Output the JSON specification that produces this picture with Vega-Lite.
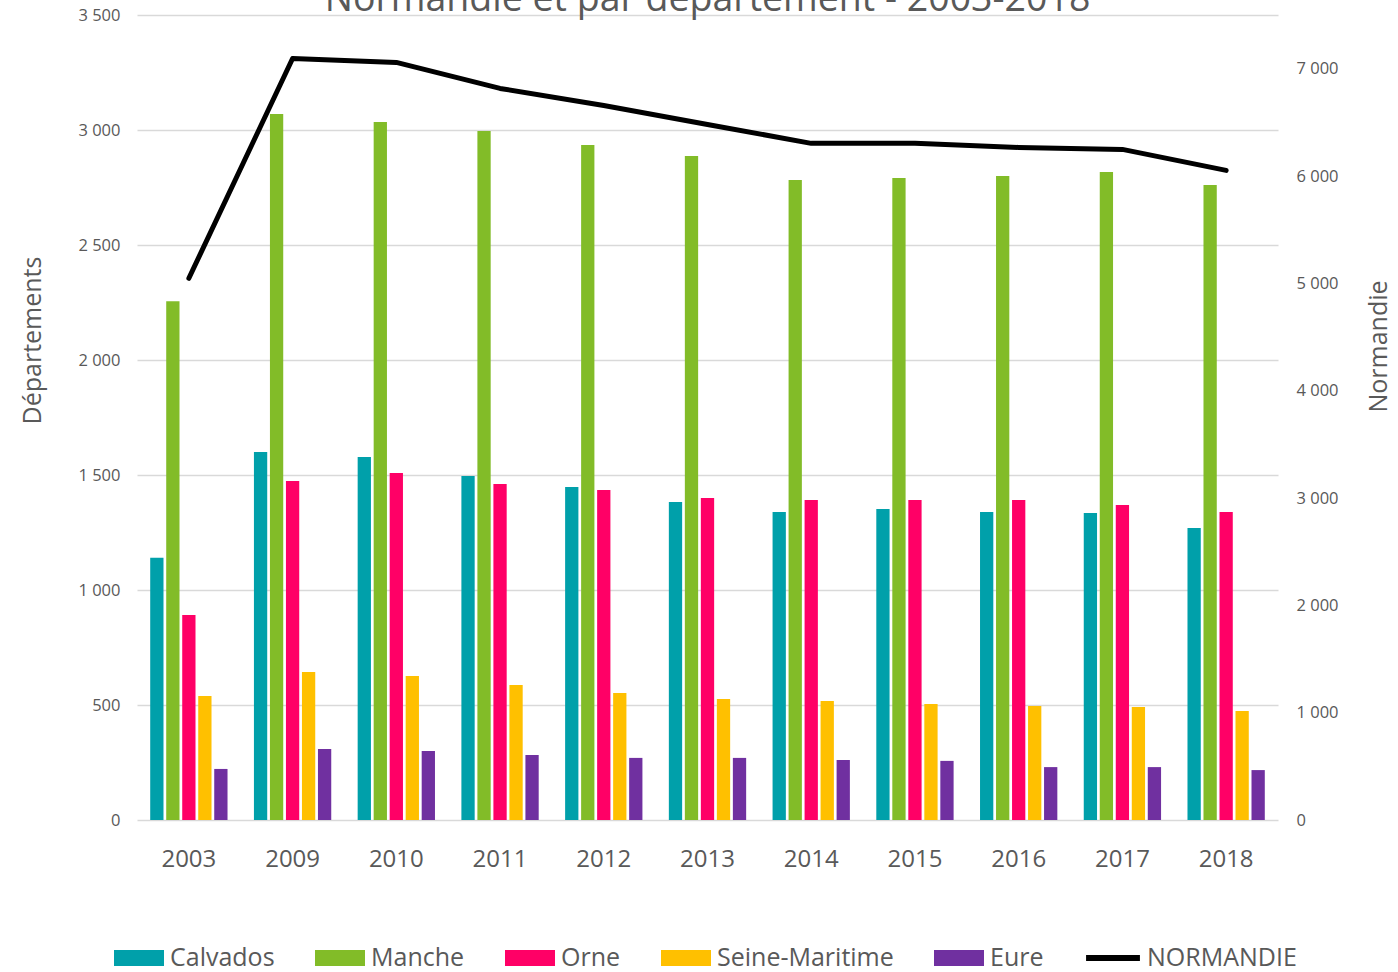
{
  "$schema": "https://vega.github.io/schema/vega-lite/v6.json",
  "width": 1141,
  "height": 805,
  "autosize": {"type": "none"},
  "padding": {"left": 137, "top": 15, "right": 120, "bottom": 152},
  "background": "white",
  "title": {"text": "Normandie et par département - 2003-2018", "fontSize": 37.5, "font": "Open Sans", "fontWeight": "normal", "color": "#595959", "frame": "group", "offset": -11, "anchor": "middle"},
  "config": {"view": {"stroke": null}, "font": "Open Sans"},
  "datasets": {
    "dept": [
      {"annee": "2003", "departement": "Calvados", "valeur": 1140},
      {"annee": "2003", "departement": "Manche", "valeur": 2255},
      {"annee": "2003", "departement": "Orne", "valeur": 891},
      {"annee": "2003", "departement": "Seine-Maritime", "valeur": 539},
      {"annee": "2003", "departement": "Eure", "valeur": 222},
      {"annee": "2009", "departement": "Calvados", "valeur": 1600},
      {"annee": "2009", "departement": "Manche", "valeur": 3070},
      {"annee": "2009", "departement": "Orne", "valeur": 1474},
      {"annee": "2009", "departement": "Seine-Maritime", "valeur": 643},
      {"annee": "2009", "departement": "Eure", "valeur": 309},
      {"annee": "2010", "departement": "Calvados", "valeur": 1578},
      {"annee": "2010", "departement": "Manche", "valeur": 3035},
      {"annee": "2010", "departement": "Orne", "valeur": 1509},
      {"annee": "2010", "departement": "Seine-Maritime", "valeur": 626},
      {"annee": "2010", "departement": "Eure", "valeur": 300},
      {"annee": "2011", "departement": "Calvados", "valeur": 1496},
      {"annee": "2011", "departement": "Manche", "valeur": 2996},
      {"annee": "2011", "departement": "Orne", "valeur": 1461},
      {"annee": "2011", "departement": "Seine-Maritime", "valeur": 587},
      {"annee": "2011", "departement": "Eure", "valeur": 283},
      {"annee": "2012", "departement": "Calvados", "valeur": 1448},
      {"annee": "2012", "departement": "Manche", "valeur": 2935},
      {"annee": "2012", "departement": "Orne", "valeur": 1435},
      {"annee": "2012", "departement": "Seine-Maritime", "valeur": 552},
      {"annee": "2012", "departement": "Eure", "valeur": 270},
      {"annee": "2013", "departement": "Calvados", "valeur": 1383},
      {"annee": "2013", "departement": "Manche", "valeur": 2887},
      {"annee": "2013", "departement": "Orne", "valeur": 1400},
      {"annee": "2013", "departement": "Seine-Maritime", "valeur": 526},
      {"annee": "2013", "departement": "Eure", "valeur": 270},
      {"annee": "2014", "departement": "Calvados", "valeur": 1339},
      {"annee": "2014", "departement": "Manche", "valeur": 2783},
      {"annee": "2014", "departement": "Orne", "valeur": 1391},
      {"annee": "2014", "departement": "Seine-Maritime", "valeur": 517},
      {"annee": "2014", "departement": "Eure", "valeur": 261},
      {"annee": "2015", "departement": "Calvados", "valeur": 1352},
      {"annee": "2015", "departement": "Manche", "valeur": 2791},
      {"annee": "2015", "departement": "Orne", "valeur": 1391},
      {"annee": "2015", "departement": "Seine-Maritime", "valeur": 504},
      {"annee": "2015", "departement": "Eure", "valeur": 257},
      {"annee": "2016", "departement": "Calvados", "valeur": 1339},
      {"annee": "2016", "departement": "Manche", "valeur": 2800},
      {"annee": "2016", "departement": "Orne", "valeur": 1391},
      {"annee": "2016", "departement": "Seine-Maritime", "valeur": 496},
      {"annee": "2016", "departement": "Eure", "valeur": 230},
      {"annee": "2017", "departement": "Calvados", "valeur": 1335},
      {"annee": "2017", "departement": "Manche", "valeur": 2817},
      {"annee": "2017", "departement": "Orne", "valeur": 1370},
      {"annee": "2017", "departement": "Seine-Maritime", "valeur": 491},
      {"annee": "2017", "departement": "Eure", "valeur": 230},
      {"annee": "2018", "departement": "Calvados", "valeur": 1270},
      {"annee": "2018", "departement": "Manche", "valeur": 2761},
      {"annee": "2018", "departement": "Orne", "valeur": 1339},
      {"annee": "2018", "departement": "Seine-Maritime", "valeur": 474},
      {"annee": "2018", "departement": "Eure", "valeur": 217}
    ],
    "norm": [
      {"annee": "2003", "serie": "NORMANDIE", "valeur": 5047},
      {"annee": "2009", "serie": "NORMANDIE", "valeur": 7095},
      {"annee": "2010", "serie": "NORMANDIE", "valeur": 7058},
      {"annee": "2011", "serie": "NORMANDIE", "valeur": 6816},
      {"annee": "2012", "serie": "NORMANDIE", "valeur": 6657},
      {"annee": "2013", "serie": "NORMANDIE", "valeur": 6480},
      {"annee": "2014", "serie": "NORMANDIE", "valeur": 6304},
      {"annee": "2015", "serie": "NORMANDIE", "valeur": 6304},
      {"annee": "2016", "serie": "NORMANDIE", "valeur": 6266},
      {"annee": "2017", "serie": "NORMANDIE", "valeur": 6248},
      {"annee": "2018", "serie": "NORMANDIE", "valeur": 6052}
    ]
  },
  "layer": [
    {
      "data": {"name": "dept"},
      "mark": {"type": "bar"},
      "encoding": {
        "x": {"field": "annee", "type": "nominal", "title": null,
          "scale": {"paddingInner": 0.23, "paddingOuter": 0.115},
          "axis": {"labelAngle": 0, "labelFontSize": 24, "labelColor": "#595959", "labelPadding": 27, "ticks": false, "domain": false, "labelFont": "Open Sans"}},
        "xOffset": {"field": "departement", "type": "nominal", "sort": ["Calvados", "Manche", "Orne", "Seine-Maritime", "Eure"],
          "scale": {"paddingInner": 0.17, "paddingOuter": 0.08}},
        "y": {"field": "valeur", "type": "quantitative", "title": "Départements",
          "scale": {"domain": [0, 3500], "nice": false},
          "axis": {"values": [0, 500, 1000, 1500, 2000, 2500, 3000, 3500], "grid": true, "gridColor": "#d9d9d9", "gridWidth": 1.5,
            "domain": false, "ticks": false, "labelFontSize": 16.5, "labelColor": "#595959", "labelPadding": 17, "labelFont": "Open Sans",
            "labelExpr": "replace(format(datum.value, ','), ',', ' ')",
            "titleFontSize": 25, "titleColor": "#595959", "titleFontWeight": "normal", "titleFont": "Open Sans",
            "titleAngle": 270, "titleX": -105, "titleY": 325, "titleBaseline": "middle", "titleAlign": "center"}},
        "color": {"field": "departement", "type": "nominal", "sort": ["Calvados", "Manche", "Orne", "Seine-Maritime", "Eure"],
          "scale": {"domain": ["Calvados", "Manche", "Orne", "Seine-Maritime", "Eure"], "range": ["#00a0aa", "#82bc28", "#ff0066", "#ffc000", "#7030a0"]},
          "legend": {"title": null, "orient": "none", "legendX": -23, "legendY": 918, "direction": "horizontal",
            "labelFontSize": 25, "labelColor": "#595959", "labelFont": "Open Sans", "labelOffset": 6, "columnPadding": 40, "labelLimit": 400,
            "symbolType": "M-1,-0.32H1V0.32H-1Z", "symbolSize": 2500, "symbolStrokeWidth": 0}}
      }
    },
    {
      "data": {"name": "norm"},
      "mark": {"type": "line", "strokeWidth": 5, "strokeCap": "round", "strokeJoin": "round"},
      "encoding": {
        "x": {"field": "annee", "type": "nominal"},
        "y": {"field": "valeur", "type": "quantitative", "title": "Normandie",
          "scale": {"domain": [0, 7500], "nice": false},
          "axis": {"orient": "right", "values": [0, 1000, 2000, 3000, 4000, 5000, 6000, 7000], "grid": false,
            "domain": false, "ticks": false, "labelFontSize": 16.5, "labelColor": "#595959", "labelPadding": 18, "labelFont": "Open Sans",
            "labelExpr": "replace(format(datum.value, ','), ',', ' ')",
            "titleFontSize": 25, "titleColor": "#595959", "titleFontWeight": "normal", "titleFont": "Open Sans",
            "titleAngle": 270, "titleX": 100, "titleY": 331, "titleBaseline": "middle", "titleAlign": "center"}},
        "stroke": {"field": "serie", "type": "nominal",
          "scale": {"domain": ["NORMANDIE"], "range": ["#000000"]},
          "legend": {"title": null, "orient": "none", "legendX": 946, "legendY": 913, "direction": "horizontal",
            "labelFontSize": 25, "labelColor": "#595959", "labelFont": "Open Sans", "labelOffset": 4, "labelLimit": 400,
            "symbolType": "stroke", "symbolSize": 2900, "symbolStrokeWidth": 6}}
      }
    }
  ],
  "resolve": {"scale": {"y": "independent"}}
}
